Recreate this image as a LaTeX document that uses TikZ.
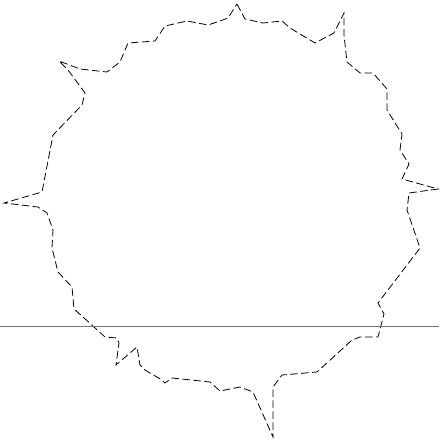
\documentclass[tikz,border=0pt]{standalone}
\usepackage{tikz}
\usetikzlibrary{calc}

\begin{document}
\begin{tikzpicture}[x=1pt, y=-1pt,
  rim/.style={black, line width=0.8pt, dash pattern=on 7.5pt off 3.5pt},
  level/.style={black!55, line width=1.2pt}]
\useasboundingbox (0,0) rectangle (439,443);
\draw[rim] (237,4)--(245,19)--(263,23)--(282,21)--(290,28)--(315,43)--(334,33)--(344,13)
  --(344,35)--(347,62)--(360,73)--(373,73)--(387,89)--(387,110)--(402,134)--(400,150)
  --(409,164)--(402,179)--(438,189)--(409,193)--(407,210)--(420,248)--(378,303)
  --(384,314)--(378,337)--(360,337)--(352,340)--(317,372)--(282,375)--(273,387)
  --(273,437)--(253,392)--(240,387)--(220,391)--(210,382)--(172,378)--(165,383)
  --(162,380)--(145,370)--(140,365)--(137,347)--(116,365)--(119,343)--(117,338)
  --(105,337)--(83,317)--(74,309)--(72,287)--(58,272)--(52,248)--(53,230)--(47,213)
  --(38,207)--(4,203)--(42,192)--(53,135)--(82,105)--(85,93)--(68,70)--(59,61)
  --(80,69)--(107,72)--(120,62)--(128,43)--(155,41)--(165,26)--(187,21)--(208,25)
  --(220,21)--(228,18)--cycle;
\draw[level] (0,326.5)--(439,326.5);
\end{tikzpicture}
\end{document}
